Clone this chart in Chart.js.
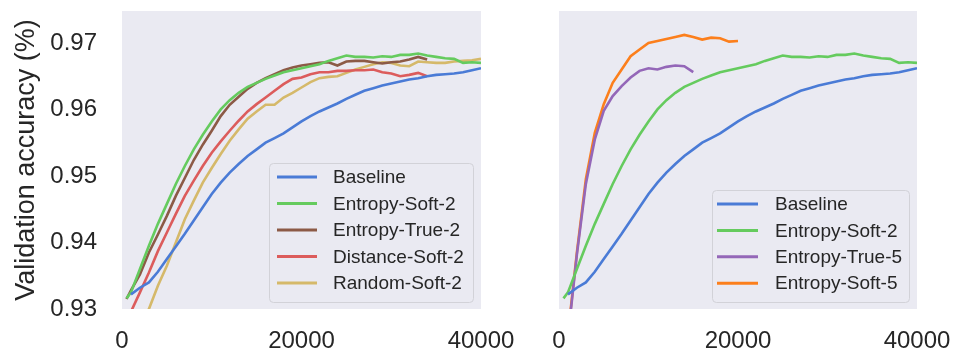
<!DOCTYPE html>
<html>
<head>
<meta charset="utf-8">
<script src="https://cdn.jsdelivr.net/npm/chart.js@4"></script>
<style>
  html, body { margin: 0; padding: 0; background: #fff; }
  #wrap { position: relative; width: 956px; height: 353px; }
  #wrap canvas { position: absolute; left: 0; top: 0; }
</style>
</head>
<body>
<div id="wrap">
  <canvas id="left" width="956" height="353"></canvas>
  <canvas id="right" width="956" height="353"></canvas>
</div>
<script>
const steps = [500, 1000, 2000, 3000, 4000, 5000, 6000, 7000, 8000, 9000, 10000,
  11000, 12000, 13000, 14000, 15000, 16000, 17000, 18000, 19000, 20000,
  21000, 22000, 23000, 24000, 25000, 26000, 27000, 28000, 29000, 30000,
  31000, 32000, 33000, 34000, 35000, 36000, 37000, 38000, 39000, 40000];

const baseline = [null, 0.9322, 0.9332, 0.9340, 0.9356, 0.9375, 0.9394, 0.9413, 0.9433, 0.9453, 0.9473,
  0.9490, 0.9505, 0.9518, 0.9530, 0.9540, 0.9550, 0.9557, 0.9564, 0.9573, 0.9582,
  0.9590, 0.9597, 0.9603, 0.9609, 0.9616, 0.9622, 0.9628, 0.9632, 0.9636, 0.9639,
  0.9642, 0.9645, 0.9647, 0.9650, 0.9652, 0.9653, 0.9654, 0.9656, 0.9659, 0.9662];
const entropySoft2 = [0.9316, 0.9325, 0.9360, 0.9395, 0.9428, 0.9458, 0.9488, 0.9515, 0.9540, 0.9562, 0.9582,
  0.9600, 0.9614, 0.9625, 0.9634, 0.9640, 0.9646, 0.9651, 0.9656, 0.9659, 0.9662,
  0.9665, 0.9668, 0.9673, 0.9677, 0.9681, 0.9679, 0.9679, 0.9678, 0.9680, 0.9679,
  0.9682, 0.9682, 0.9684, 0.9681, 0.9679, 0.9677, 0.9676, 0.9670, 0.9671, 0.9670];
const entropyTrue2 = [0.9315, 0.9328, 0.9352, 0.9385, 0.9412, 0.9440, 0.9470, 0.9497, 0.9524, 0.9547, 0.9568,
  0.9590, 0.9607, 0.9619, 0.9631, 0.9640, 0.9647, 0.9653, 0.9659, 0.9663, 0.9666,
  0.9668, 0.9670, 0.9671, 0.9666, 0.9672, 0.9673, 0.9673, 0.9671, 0.9669, 0.9671,
  0.9672, 0.9675, 0.9679, 0.9675, null, null, null, null, null, null];
const distanceSoft2 = [null, 0.9296, 0.9325, 0.9355, 0.9387, 0.9415, 0.9443, 0.9470, 0.9493, 0.9515, 0.9535,
  0.9552, 0.9568, 0.9583, 0.9597, 0.9608, 0.9618, 0.9628, 0.9638, 0.9646, 0.9648,
  0.9653, 0.9656, 0.9656, 0.9658, 0.9658, 0.9659, 0.9659, 0.9660, 0.9656, 0.9654,
  0.9650, 0.9652, 0.9655, 0.9650, null, null, null, null, null, null];
const randomSoft2 = [null, null, 0.9282, 0.9300, 0.9335, 0.9365, 0.9400, 0.9435, 0.9463, 0.9490, 0.9512,
  0.9533, 0.9553, 0.9570, 0.9586, 0.9597, 0.9607, 0.9607, 0.9618, 0.9625, 0.9633,
  0.9641, 0.9647, 0.9649, 0.9650, 0.9655, 0.9660, 0.9664, 0.9668, 0.9671, 0.9670,
  0.9666, 0.9665, 0.9672, 0.9671, 0.9670, 0.9670, 0.9672, 0.9673, 0.9674, 0.9676];
const entropyTrue5 = [null, 0.9258, 0.9382, 0.9488, 0.9555, 0.9598, 0.9620, 0.9635, 0.9648, 0.9658, 0.9662,
  0.9660, 0.9664, 0.9666, 0.9665, 0.9656, null, null, null, null, null,
  null, null, null, null, null, null, null, null, null, null,
  null, null, null, null, null, null, null, null, null, null];
const entropySoft5 = [null, 0.9262, 0.9385, 0.9495, 0.9565, 0.9608, 0.9640, 0.9660, 0.9680, 0.9690, 0.9700,
  0.9703, 0.9706, 0.9709, 0.9712, 0.9709, 0.9705, 0.9708, 0.9707, 0.9702, 0.9703,
  null, null, null, null, null, null, null, null, null, null,
  null, null, null, null, null, null, null, null, null, null];

const xTicks = [0, 20000, 40000];
const yTicks = [0.93, 0.94, 0.95, 0.96, 0.97];

const FONT = '"Liberation Sans", Arial, sans-serif';
const TEXT = '#262626';

function series(label, values, color) {
  return {
    label: label,
    data: steps.map((s, i) => ({ x: s, y: values[i] })),
    borderColor: color,
    backgroundColor: color,
    borderWidth: 2.6,
    pointRadius: 0,
    tension: 0,
    spanGaps: false,
  };
}

const plotBg = {
  id: 'plotBg',
  beforeDraw(chart) {
    const { ctx, chartArea: { left, top, right, bottom } } = chart;
    ctx.save();
    ctx.fillStyle = '#EAEAF2';
    ctx.fillRect(left, top, right - left, bottom - top);
    ctx.restore();
  },
};

const boxLegend = {
  id: 'boxLegend',
  afterDraw(chart, args, opts) {
    const ctx = chart.ctx;
    ctx.save();
    ctx.beginPath();
    ctx.roundRect(opts.x + 0.5, opts.y + 0.5, opts.w, opts.h, 4);
    ctx.fillStyle = 'rgba(234,234,242,0.85)';
    ctx.fill();
    ctx.strokeStyle = '#d2d2d8';
    ctx.lineWidth = 1;
    ctx.stroke();
    ctx.font = '19px ' + FONT;
    ctx.textBaseline = 'middle';
    ctx.fillStyle = TEXT;
    chart.data.datasets.forEach((ds, i) => {
      const y = opts.row0 + i * opts.rowStep;
      ctx.strokeStyle = ds.borderColor;
      ctx.lineWidth = 3;
      ctx.beginPath();
      ctx.moveTo(opts.lineX0, y);
      ctx.lineTo(opts.lineX1, y);
      ctx.stroke();
      ctx.fillText(ds.label, opts.textX, y + 1);
    });
    ctx.restore();
  },
};

function xScale() {
  return {
    type: 'linear',
    min: 0,
    max: 40000,
    grid: { display: false, drawTicks: false },
    border: { display: false },
    afterBuildTicks(scale) { scale.ticks = xTicks.map(v => ({ value: v })); },
    afterFit(scale) {
      scale.height = 44;
      scale.paddingLeft = 0;
      scale.paddingRight = 0;
    },
    ticks: {
      color: TEXT,
      font: { family: FONT, size: 24 },
      padding: 18,
      maxRotation: 0,
      callback: v => String(v),
    },
  };
}

function yScale(show) {
  return {
    display: show,
    min: 0.93,
    max: 0.9748,
    grid: { display: false, drawTicks: false },
    border: { display: false },
    afterBuildTicks(scale) { scale.ticks = yTicks.map(v => ({ value: v })); },
    afterFit(scale) {
      if (show) scale.width = 122;
      scale.paddingTop = 0;
      scale.paddingBottom = 0;
    },
    ticks: {
      color: TEXT,
      font: { family: FONT, size: 24 },
      padding: 25,
      callback: v => v.toFixed(2),
    },
    title: {
      display: true,
      text: 'Validation accuracy (%)',
      color: TEXT,
      font: { family: FONT, size: 27 },
      padding: { top: 10, bottom: 0 },
    },
  };
}

new Chart(document.getElementById('left'), {
  type: 'line',
  data: {
    datasets: [
      series('Baseline', baseline, '#4a7bd6'),
      series('Entropy-Soft-2', entropySoft2, '#65cb5e'),
      series('Entropy-True-2', entropyTrue2, '#8c5a46'),
      series('Distance-Soft-2', distanceSoft2, '#dc5c5c'),
      series('Random-Soft-2', randomSoft2, '#d5b96a'),
    ],
  },
  options: {
    responsive: false,
    animation: false,
    layout: { padding: { left: 0, right: 475, top: 11, bottom: 0 } },
    scales: { x: xScale(), y: yScale(true) },
    plugins: {
      legend: { display: false },
      tooltip: { enabled: false },
      boxLegend: { x: 269, y: 163, w: 204, h: 139, row0: 177, rowStep: 26.5, lineX0: 277, lineX1: 317, textX: 333 },
    },
  },
  plugins: [plotBg, boxLegend],
});

new Chart(document.getElementById('right'), {
  type: 'line',
  data: {
    datasets: [
      series('Baseline', baseline, '#4a7bd6'),
      series('Entropy-Soft-2', entropySoft2, '#65cb5e'),
      series('Entropy-True-5', entropyTrue5, '#9467b8'),
      series('Entropy-Soft-5', entropySoft5, '#fc7f1c'),
    ],
  },
  options: {
    responsive: false,
    animation: false,
    layout: { padding: { left: 559, right: 39, top: 11, bottom: 0 } },
    scales: { x: xScale(), y: yScale(false) },
    plugins: {
      legend: { display: false },
      tooltip: { enabled: false },
      boxLegend: { x: 712, y: 190, w: 197, h: 112, row0: 204, rowStep: 26.4, lineX0: 717, lineX1: 758, textX: 775 },
    },
  },
  plugins: [plotBg, boxLegend],
});
</script>
</body>
</html>
